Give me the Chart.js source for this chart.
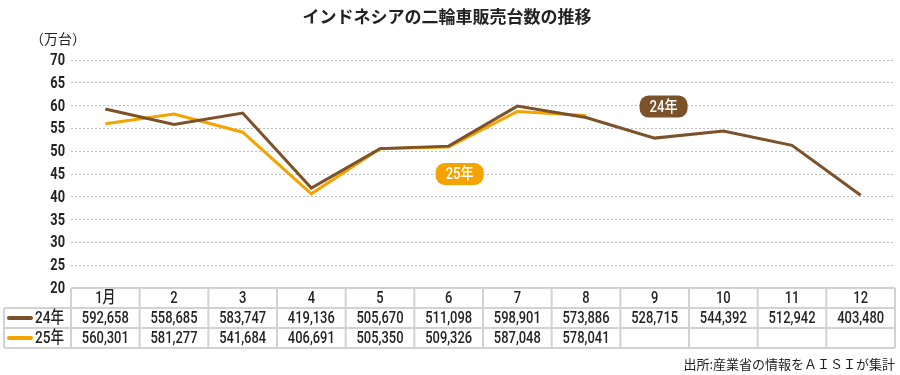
<!DOCTYPE html>
<html>
<head>
<meta charset="utf-8">
<script src="https://cdn.jsdelivr.net/npm/chart.js@4"></script>
<style>
  html, body { margin: 0; padding: 0; background: #fff; }
  #wrap { width: 900px; height: 375px; }
</style>
</head>
<body>
<div id="wrap"><canvas id="salesChart" width="900" height="375"></canvas></div>
<script>
// monthly sales, units
var months = ['1月', '2', '3', '4', '5', '6', '7', '8', '9', '10', '11', '12'];
var sales24 = [592658, 558685, 583747, 419136, 505670, 511098, 598901, 573886, 528715, 544392, 512942, 403480];
var sales25 = [560301, 581277, 541684, 406691, 505350, 509326, 587048, 578041];
var seriesNames = ['24年', '25年'];
var yTicks = [20, 25, 30, 35, 40, 45, 50, 55, 60, 65, 70];

var brown = '#7b5229';
var orange = '#f5a300';
var numFont = "Roboto, 'Noto Sans CJK JP', sans-serif";
var jpFont = "'Noto Sans CJK JP', sans-serif";

function toMan(arr) {
    return arr.map(function (v) { return v / 10000; });
}

function fmt(v) {
    return v.toLocaleString('en-US');
}

// narrow text: the original uses a condensed face
function narrowText(c, str, x, y, align, sx) {
    c.save();
    c.translate(x, y);
    c.scale(sx, 1);
    c.textAlign = align;
    c.fillText(str, 0, 0);
    c.restore();
}

function roundRect(c, x, y, w, h, r) {
    c.beginPath();
    c.moveTo(x + r, y);
    c.lineTo(x + w - r, y);
    c.arcTo(x + w, y, x + w, y + r, r);
    c.lineTo(x + w, y + h - r);
    c.arcTo(x + w, y + h, x + w - r, y + h, r);
    c.lineTo(x + r, y + h);
    c.arcTo(x, y + h, x, y + h - r, r);
    c.lineTo(x, y + r);
    c.arcTo(x, y, x + r, y, r);
    c.closePath();
}

var extras = {
    id: 'extras',
    afterDraw: function (chart) {
        var c = chart.ctx;
        var area = chart.chartArea;
        var xs = chart.scales.x;
        var ys = chart.scales.y;
        c.save();

        // title + unit
        c.fillStyle = '#222';
        c.textAlign = 'center';
        c.textBaseline = 'middle';
        c.font = "bold 17px " + jpFont;
        c.fillText('インドネシアの二輪車販売台数の推移', 447, 17);
        c.textAlign = 'left';
        c.font = "14px " + jpFont;
        c.fillText('（万台）', 30, 39);

        // y tick labels
        c.font = "bold 16px " + numFont;
        ys.ticks.forEach(function (t) {
            narrowText(c, String(t.value), area.left - 6, ys.getPixelForValue(t.value) + 1, 'right', 0.8);
        });

        // badges
        function badge(text, idx, val, color) {
            var cx = xs.getPixelForValue(idx);
            var cy = ys.getPixelForValue(val);
            c.fillStyle = color;
            roundRect(c, cx - 24, cy - 11, 48, 22, 9);
            c.fill();
            c.fillStyle = '#fff';
            c.font = "500 16px " + numFont;
            narrowText(c, text, cx, cy + 1, 'center', 0.82);
        }
        badge(seriesNames[0], 8.13, 59.8, brown);
        badge(seriesNames[1], 5.16, 45, orange);

        // data table
        var colW = (area.right - area.left) / months.length;
        var top = area.bottom;
        var rowH = 20;
        var labelLeft = 4;
        c.strokeStyle = '#d2d2d2';
        c.lineWidth = 2;
        c.beginPath();
        c.moveTo(area.left, top);
        c.lineTo(area.right, top);
        for (var r = 1; r <= 3; r++) {
            c.moveTo(labelLeft, top + r * rowH);
            c.lineTo(area.right, top + r * rowH);
        }
        c.moveTo(labelLeft, top + rowH);
        c.lineTo(labelLeft, top + 3 * rowH);
        for (var i = 0; i <= months.length; i++) {
            var gx = area.left + i * colW;
            c.moveTo(gx, top);
            c.lineTo(gx, top + 3 * rowH);
        }
        c.stroke();

        c.fillStyle = '#222';
        c.textBaseline = 'middle';
        c.font = "500 17px " + numFont;
        months.forEach(function (m, i) {
            var cx = xs.getPixelForValue(i);
            narrowText(c, m, cx, top + rowH / 2 + 1, 'center', 0.76);
            narrowText(c, fmt(sales24[i]), cx, top + rowH * 1.5 + 1, 'center', 0.76);
            if (i < sales25.length) {
                narrowText(c, fmt(sales25[i]), cx, top + rowH * 2.5 + 1, 'center', 0.76);
            }
        });

        // row labels with legend lines
        [brown, orange].forEach(function (col, k) {
            var ry = top + rowH * (1.5 + k);
            c.strokeStyle = col;
            c.lineWidth = 4;
            c.lineCap = 'round';
            c.beginPath();
            c.moveTo(9, ry);
            c.lineTo(31, ry);
            c.stroke();
            c.fillStyle = '#222';
            c.font = "500 17px " + numFont;
            narrowText(c, seriesNames[k], 35, ry + 1, 'left', 0.8);
        });

        // source
        c.textAlign = 'right';
        c.font = "13px " + jpFont;
        c.fillText('出所:産業省の情報をＡＩＳＩが集計', area.right, 364);
        c.restore();
    }
};

var ctx = document.getElementById('salesChart').getContext('2d');
var salesChart = new Chart(ctx, {
    type: 'line',
    data: {
        labels: months,
        datasets: [{
            label: seriesNames[0],
            data: toMan(sales24),
            borderColor: brown,
            borderWidth: 3,
            pointRadius: 0,
            tension: 0
        }, {
            label: seriesNames[1],
            data: toMan(sales25),
            borderColor: orange,
            borderWidth: 3,
            pointRadius: 0,
            tension: 0
        }]
    },
    options: {
        responsive: false,
        animation: false,
        layout: {
            padding: { top: 60, bottom: 87, left: 0, right: 5 }
        },
        plugins: {
            legend: { display: false },
            tooltip: { enabled: false }
        },
        scales: {
            x: {
                display: false,
                offset: true
            },
            y: {
                min: 20,
                max: 70,
                afterFit: function (scale) { scale.width = 71; },
                afterBuildTicks: function (scale) {
                    scale.ticks = yTicks.map(function (v) { return { value: v }; });
                },
                grid: {
                    color: '#bdbdbd',
                    lineWidth: 1,
                    drawTicks: false
                },
                border: { display: false, dash: [2, 2] },
                ticks: { display: false }
            }
        }
    },
    plugins: [extras]
});
</script>
</body>
</html>
